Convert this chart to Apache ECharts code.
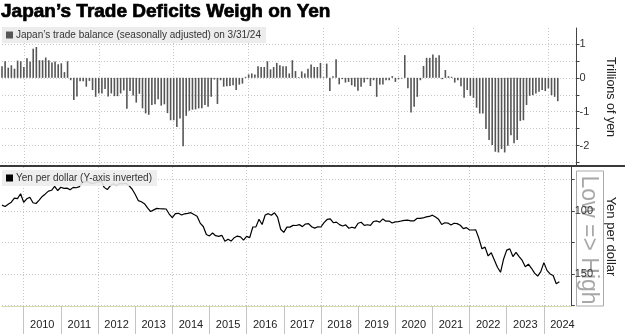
<!DOCTYPE html>
<html>
<head>
<meta charset="utf-8">
<script src="https://cdn.jsdelivr.net/npm/echarts@6/dist/echarts.min.js"></script>
<style>html,body{margin:0;padding:0;background:#fff;}#c{width:625px;height:334px;}</style>
</head>
<body>
<div id="c"></div>
<script>
// Month-end categories, May 2009 .. Sep 2024
const startYear = 2009, startMonth = 5, monthCount = 185;
const months = [];
for (let k = 0; k < monthCount; k++) {
  const m = startMonth - 1 + k;
  const y = startYear + Math.floor(m / 12);
  const mm = (m % 12) + 1;
  months.push(y + '-' + (mm < 10 ? '0' + mm : '' + mm));
}

// Japan's trade balance (seasonally adjusted), trillions of yen, May 2009 .. Mar 2024
const tradeBalance = [
  0.34, 0.49, 0.30, 0.37, 0.27, 0.51, 0.49, 0.32,
  0.58, 0.48, 0.86, 0.91, 0.52, 0.52, 0.60, 0.52, 0.45, 0.48, 0.40, 0.43,
  0.17, 0.49, -0.07, -0.65, -0.55, -0.10, -0.10, -0.26, -0.09, -0.36, -0.56, -0.46,
  -0.46, -0.33, -0.55, -0.46, -0.54, -0.54, -0.46, -0.37, -0.91, -0.39, -0.52, -0.73,
  -0.47, -0.90, -1.05, -1.09, -0.80, -0.78, -0.63, -0.82, -0.78, -1.04, -1.25, -1.25,
  -1.45, -1.20, -2.02, -1.12, -0.97, -0.94, -0.93, -0.90, -0.90, -0.80, -0.85, -0.56,
  -0.05, -0.77, -0.07, -0.26, -0.25, -0.24, -0.22, -0.36, -0.20, -0.17, 0.03, 0.10,
  0.13, 0.10, 0.34, 0.32, 0.32, 0.49, 0.25, 0.32, 0.44, 0.37, 0.34, 0.34,
  0.13, 0.52, 0.20, 0.02, 0.19, 0.13, 0.27, 0.39, 0.32, 0.32, 0.44, 0.02,
  0.42, -0.39, 0.05, 0.55, -0.19, -0.04, -0.14, -0.12, -0.22, -0.26, -0.38, -0.26,
  -0.14, -0.04, -0.24, -0.07, -0.56, -0.20, -0.20, -0.07, -0.07, 0.05, -0.12, -0.04,
  -0.02, 0.67, -0.31, -1.02, -0.85, -0.56, -0.07, 0.35, 0.59, 0.59, 0.69, 0.59,
  0.67, -0.04, 0.23, 0.05, 0.03, -0.14, -0.07, -0.25, -0.59, -0.36, -0.53, -0.59,
  -0.88, -1.05, -1.05, -1.51, -1.83, -1.98, -2.18, -2.20, -2.10, -2.20, -2.00, -1.69,
  -1.93, -1.83, -1.27, -1.25, -0.80, -0.53, -0.51, -0.46, -0.41, -0.36, -0.39, -0.31,
  -0.51, -0.56, -0.69
];

// Yen per dollar, month end, May 2009 .. May 2024
const yenPerDollar = [
  95.3, 96.4, 94.7, 93.0, 89.8, 90.1, 86.3, 93.0,
  90.3, 89.0, 93.4, 94.0, 91.3, 88.4, 86.4, 84.2, 83.5, 80.4, 83.7, 81.1,
  82.0, 81.8, 83.1, 81.2, 81.5, 80.6, 76.8, 76.6, 77.0, 78.2, 77.6, 76.9,
  76.2, 81.2, 82.9, 79.8, 78.3, 79.8, 78.1, 78.4, 77.9, 79.8, 82.5, 86.7,
  91.7, 92.6, 94.2, 97.5, 100.4, 99.1, 97.9, 98.2, 98.3, 98.4, 102.4, 105.3,
  102.0, 101.8, 103.2, 102.2, 101.8, 101.3, 102.8, 104.1, 109.6, 112.3, 118.6, 119.8,
  117.5, 119.6, 120.1, 119.3, 124.1, 122.5, 123.9, 121.2, 119.9, 120.6, 123.1, 120.2,
  121.1, 112.7, 112.6, 106.5, 110.7, 103.2, 102.1, 103.4, 101.4, 104.8, 114.5, 117.0,
  112.8, 112.8, 111.4, 111.5, 110.8, 112.4, 110.3, 110.0, 112.5, 113.6, 112.5, 112.7,
  109.2, 106.7, 106.3, 109.3, 108.8, 110.8, 111.9, 111.0, 113.7, 112.9, 113.6, 109.7,
  108.9, 111.4, 110.9, 111.4, 108.3, 107.9, 108.8, 106.3, 108.1, 108.0, 109.5, 108.6,
  108.4, 107.9, 107.5, 107.2, 107.8, 107.9, 105.9, 105.9, 105.5, 104.7, 104.3, 103.3,
  104.7, 106.6, 110.7, 109.3, 109.6, 111.1, 109.7, 110.0, 111.3, 114.0, 113.2, 115.1,
  115.1, 115.0, 121.7, 130.0, 128.7, 135.7, 133.2, 138.9, 144.7, 148.7, 138.1, 131.1,
  130.1, 136.2, 132.9, 136.3, 139.3, 144.3, 142.3, 145.5, 149.4, 151.7, 148.2, 141.0,
  147.2, 150.0, 151.3, 157.8, 156.3
];

const balanceTicks = [-2.5, -2, -1.5, -1, -0.5, 0, 0.5, 1];
const balanceLabels = [-2, -1, 0, 1];
const balanceGrid = [-2, -1, 0, 1];
const yenTicks = [75, 100, 125, 150, 175];
const yenLabels = [100, 150];
const yenGrid = [100, 150];

const titleText = 'Japan\u2019s Trade Deficits Weigh on Yen';
const barName = 'Japan\u2019s trade balance (seasonally adjusted) on 3/31/24';
const lineName = 'Yen per dollar (Y-axis inverted)';

const FONT = 'Liberation Sans, Arial, sans-serif';
const isDec = (v) => v.slice(5) === '12';
const gridDec = (i, v) => v.slice(5) === '12' && (+v.slice(0, 4)) % 2 === 1;
const dotted = { color: '#c8c8c8', type: [1, 2], width: 1 };

const chart = echarts.init(document.getElementById('c'), null, { renderer: 'canvas' });
chart.setOption({
  animation: false,
  backgroundColor: '#fff',
  textStyle: { fontFamily: FONT },
  title: {
    text: titleText, left: 1, top: 2, padding: 0,
    textStyle: { fontSize: 19, fontWeight: 'bold', color: '#000', fontFamily: FONT,
      textBorderColor: '#000', textBorderWidth: 0.7 }
  },
  legend: [
    {
      data: [barName], left: 2, top: 27, padding: [3, 5, 3, 4], icon: 'rect',
      itemWidth: 7, itemHeight: 7, itemGap: 3, backgroundColor: '#ececec',
      textStyle: { fontSize: 10, color: '#333', padding: [0, 0, 0, -2] }, selectedMode: false
    },
    {
      data: [lineName], left: 2, top: 170, padding: [3, 5, 3, 4], icon: 'rect',
      itemWidth: 7, itemHeight: 7, itemGap: 3, backgroundColor: 'rgba(236,236,236,0.9)',
      textStyle: { fontSize: 10, color: '#333', padding: [0, 0, 0, -2] }, selectedMode: false
    }
  ],
  grid: [
    { left: 2, right: 48.5, top: 28, height: 138 },
    { left: 2, right: 48.5, top: 167, height: 139 }
  ],
  xAxis: [
    {
      type: 'category', gridIndex: 0, data: months, boundaryGap: false,
      axisLine: { show: false }, axisTick: { show: false }, axisLabel: { show: false },
      splitLine: { show: true, interval: gridDec, lineStyle: dotted }
    },
    {
      type: 'category', gridIndex: 1, data: months, boundaryGap: false,
      axisLine: { show: true, lineStyle: { color: '#d3dcae', width: 1 } },
      axisTick: { show: true, interval: (i, v) => isDec(v), length: 28, lineStyle: { color: '#c4c4c4' } },
      axisLabel: {
        show: true, interval: (i, v) => v.slice(5) === '06' && (+v.slice(0, 4)) >= 2010,
        formatter: (v) => v.slice(0, 4), margin: 13, fontSize: 11, color: '#222', fontFamily: FONT
      },
      splitLine: { show: true, interval: gridDec, lineStyle: dotted }
    }
  ],
  yAxis: [
    {
      type: 'value', gridIndex: 0, position: 'right', min: -2.6, max: 1.47,
      axisLine: { show: true, lineStyle: { color: '#444', width: 1 } },
      axisTick: { show: true, customValues: balanceTicks, length: 3, lineStyle: { color: '#444' } },
      axisLabel: { show: true, customValues: balanceLabels, margin: 3, fontSize: 11, color: '#333', fontFamily: FONT },
      splitLine: { show: true, customValues: balanceGrid, lineStyle: dotted },
      name: 'Trillions of yen', nameLocation: 'middle', nameRotate: -90, nameGap: 27,
      nameTextStyle: { fontSize: 12.5, color: '#222', fontFamily: FONT }
    },
    {
      type: 'value', gridIndex: 1, position: 'right', inverse: true, min: 65, max: 175.5,
      axisLine: { show: true, lineStyle: { color: '#444', width: 1 } },
      axisTick: { show: true, customValues: yenTicks, length: 3, lineStyle: { color: '#444' } },
      axisLabel: { show: true, customValues: yenLabels, margin: 3, fontSize: 11, color: '#333', fontFamily: FONT },
      splitLine: { show: true, customValues: yenGrid, lineStyle: dotted },
      name: 'Yen per dollar', nameLocation: 'middle', nameRotate: -90, nameGap: 27,
      nameTextStyle: { fontSize: 13, color: '#222', fontFamily: FONT }
    }
  ],
  series: [
    {
      name: barName, type: 'bar', xAxisIndex: 0, yAxisIndex: 0, data: tradeBalance,
      barWidth: 1.6, clip: false, itemStyle: { color: '#565656' }, silent: true
    },
    {
      name: lineName, type: 'line', xAxisIndex: 1, yAxisIndex: 1, data: yenPerDollar,
      symbol: 'none', lineStyle: { color: '#000', width: 1.2 }, itemStyle: { color: '#000' }, silent: true
    }
  ],
  graphic: [
    { type: 'rect', z: 10, shape: { x: 0, y: 165, width: 625, height: 2 }, style: { fill: '#3a3a3a' } },
    { type: 'rect', z: 0, shape: { x: 576.5, y: 171, width: 27, height: 135 }, style: { fill: 'none', stroke: '#aaa', lineWidth: 1 } },
    {
      type: 'text', z: 0, x: 588, y: 240, rotation: -Math.PI / 2,
      style: { text: 'Low => High', fontSize: 23, fill: '#a8a8a8', align: 'center', verticalAlign: 'middle', fontFamily: FONT }
    }
  ]
});
</script>
</body>
</html>
